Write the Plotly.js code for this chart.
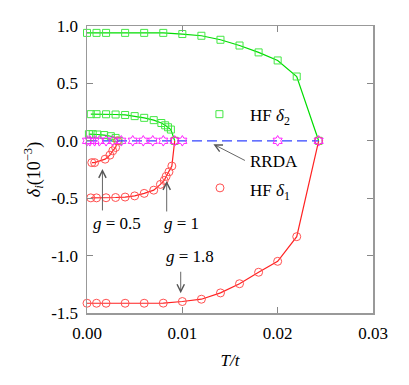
<!DOCTYPE html>
<html>
<head>
<meta charset="utf-8">
<script src="https://cdn.plot.ly/plotly-3.0.1.min.js"></script>
<style>
  html, body { margin: 0; padding: 0; background: #fff; }
  #chart { width: 409px; height: 385px; }
</style>
</head>
<body>
<div id="chart"></div>
<script>
// HF delta_2 (green squares), three coupling strengths
const tD2g18 = [0, 0.001, 0.002, 0.004, 0.006, 0.008, 0.010, 0.012, 0.014, 0.016, 0.018, 0.020, 0.022, 0.0243];
const d2g18 = [0.94, 0.94, 0.94, 0.94, 0.94, 0.94, 0.93, 0.915, 0.88, 0.83, 0.77, 0.70, 0.56, 0.0];
const tD2g1 = [0.0004, 0.001, 0.002, 0.003, 0.004, 0.005, 0.006, 0.007, 0.0078, 0.0082, 0.0085, 0.0088, 0.0092];
const d2g1 = [0.232, 0.232, 0.231, 0.229, 0.225, 0.215, 0.20, 0.18, 0.155, 0.135, 0.118, 0.098, 0.0];
const tD2g05 = [0.0002, 0.0006, 0.0011, 0.0018, 0.0025, 0.0030, 0.0033];
const d2g05 = [0.058, 0.058, 0.055, 0.05, 0.04, 0.025, 0.0];

// HF delta_1 (red circles)
const tD1g18 = [0, 0.001, 0.002, 0.004, 0.006, 0.008, 0.010, 0.012, 0.014, 0.016, 0.018, 0.020, 0.022, 0.0243];
const d1g18 = [-1.415, -1.415, -1.415, -1.415, -1.415, -1.414, -1.40, -1.38, -1.325, -1.245, -1.145, -1.05, -0.835, 0.0];
const tD1g1 = [0.0004, 0.001, 0.002, 0.003, 0.004, 0.005, 0.006, 0.007, 0.0077, 0.0081, 0.0083, 0.0086, 0.0089, 0.0092];
const d1g1 = [-0.497, -0.497, -0.496, -0.494, -0.49, -0.48, -0.458, -0.43, -0.38, -0.345, -0.31, -0.27, -0.22, 0.0];
const tD1g05 = [0.0005, 0.0008, 0.0019, 0.0024, 0.0027, 0.0030, 0.0032];
const d1g05 = [-0.19, -0.19, -0.16, -0.125, -0.087, -0.058, 0.0];

// RRDA (zero everywhere)
const tRRDA = [0, 0.0003, 0.0008, 0.0013, 0.002, 0.0027, 0.0036, 0.0048, 0.0059, 0.0069, 0.008, 0.0092, 0.010, 0.020, 0.0243];
const dRRDA = [0, 0, 0, 0, 0, 0, 0, 0, 0, 0, 0, 0, 0, 0, 0];

const yTickVals = [1.0, 0.5, 0.0, -0.5, -1.0, -1.5];
const yTickText = ['1.0', '0.5', '0.0', '-0.5', '-1.0', '-1.5'];
const xTickVals = [0, 0.01, 0.02, 0.03];
const xTickText = ['0.00', '0.01', '0.02', '0.03'];

const serif = 'Liberation Serif';
const green = '#00dd00', greenMk = '#44e844';
const red = '#ff2222', redMk = '#ff5050';

const hf = function(x, y, line, mk, symbol, size) {
    return {
        x: x, y: y, type: 'scatter', mode: 'lines+markers', cliponaxis: false,
        line: {color: line, width: 1.2},
        marker: {symbol: symbol, size: size, color: mk, line: {color: mk, width: 1}},
        hoverinfo: 'x+y'
    };
};

const data = [
    hf(tD2g18, d2g18, green, greenMk, 'square-open', 7),
    hf(tD2g1, d2g1, green, greenMk, 'square-open', 7),
    hf(tD2g05, d2g05, green, greenMk, 'square-open', 7),
    hf(tD1g18, d1g18, red, redMk, 'circle-open', 8),
    hf(tD1g1, d1g1, red, redMk, 'circle-open', 8),
    hf(tD1g05, d1g05, red, redMk, 'circle-open', 8),
    {
        x: tRRDA, y: dRRDA, type: 'scatter', mode: 'lines+markers', cliponaxis: false,
        line: {color: '#3344ff', width: 1.2, dash: '10px,5px'},
        marker: {symbol: 'hexagram-open', size: 8, color: '#ff22ff', line: {color: '#ff22ff', width: 1}}
    }
];

const arrow = {showarrow: true, arrowhead: 5, arrowsize: 1.6, arrowwidth: 0.9, arrowcolor: '#555', text: ''};
const label = {showarrow: false, font: {family: serif, size: 17, color: '#000'}};

const layout = {
    width: 409, height: 385,
    margin: {l: 87, r: 36, t: 26, b: 72},
    paper_bgcolor: '#fff', plot_bgcolor: '#fff',
    showlegend: false,
    font: {family: serif, size: 17, color: '#000'},
    xaxis: {
        range: [0, 0.03], tickvals: xTickVals, ticktext: xTickText,
        ticks: 'inside', ticklen: 6, tickcolor: '#888', tickwidth: 1,
        showline: true, linecolor: '#999', linewidth: 1.5, mirror: 'ticks',
        showgrid: false, zeroline: false, ticklabelstandoff: 4,
        title: {text: '<i>T/t</i>', font: {family: serif, size: 17}, standoff: 12}
    },
    yaxis: {
        range: [-1.5, 1.0], tickvals: yTickVals, ticktext: yTickText,
        ticks: 'inside', ticklen: 6, tickcolor: '#888', tickwidth: 1,
        showline: true, linecolor: '#999', linewidth: 1.5, mirror: 'ticks',
        showgrid: false, zeroline: false, ticklabelstandoff: 4,
        title: {text: '<i>δ<sub>i</sub></i>(10<sup>−3</sup>)', font: {family: serif, size: 18}, standoff: 6}
    },
    shapes: [
        {type: 'rect', xref: 'x', yref: 'y', xsizemode: 'pixel', ysizemode: 'pixel',
         xanchor: 0.01389, yanchor: 0.232, x0: -3.5, x1: 3.5, y0: -3.5, y1: 3.5,
         line: {color: greenMk, width: 1}},
        {type: 'circle', xref: 'x', yref: 'y', xsizemode: 'pixel', ysizemode: 'pixel',
         xanchor: 0.01395, yanchor: -0.41, x0: -4, x1: 4, y0: -4, y1: 4,
         line: {color: redMk, width: 1}}
    ],
    annotations: [
        Object.assign({}, label, {x: 0.0192, y: 0.21, xref: 'x', yref: 'y', text: 'HF <i>δ</i><sub>2</sub>'}),
        Object.assign({}, label, {x: 0.0196, y: -0.18, xref: 'x', yref: 'y', text: 'RRDA'}),
        Object.assign({}, label, {x: 0.0192, y: -0.45, xref: 'x', yref: 'y', text: 'HF <i>δ</i><sub>1</sub>'}),
        Object.assign({}, label, {x: 0.00314, y: -0.72, xref: 'x', yref: 'y', text: '<i>g</i> = 0.5'}),
        Object.assign({}, label, {x: 0.00994, y: -0.72, xref: 'x', yref: 'y', text: '<i>g</i> = 1'}),
        Object.assign({}, label, {x: 0.0108, y: -1.01, xref: 'x', yref: 'y', text: '<i>g</i> = 1.8'}),
        Object.assign({}, arrow, {x: 0.00162, y: -0.245, xref: 'x', yref: 'y', ax: 0, ay: 43}),
        Object.assign({}, arrow, {x: 0.00836, y: -0.35, xref: 'x', yref: 'y', ax: 0, ay: 32}),
        Object.assign({}, arrow, {x: 0.00983, y: -1.328, xref: 'x', yref: 'y', ax: 0, ay: -23}),
        Object.assign({}, arrow, {x: 0.01326, y: -0.03, xref: 'x', yref: 'y', ax: 33, ay: 17})
    ]
};

Plotly.newPlot('chart', data, layout, {displayModeBar: false, staticPlot: true});
</script>
</body>
</html>
